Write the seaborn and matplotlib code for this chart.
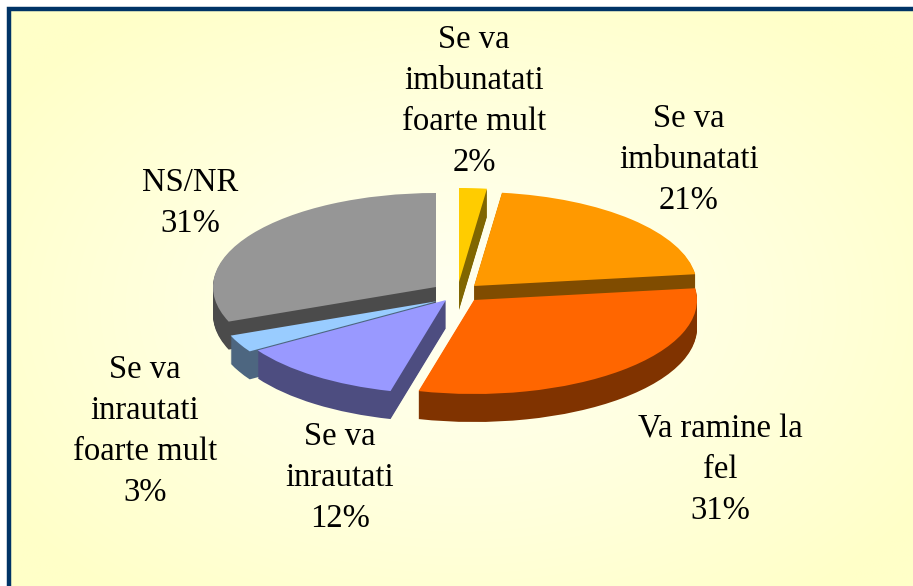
import numpy as np
import matplotlib
matplotlib.use("Agg")
import matplotlib.pyplot as plt
from matplotlib.patches import Rectangle
import seaborn as sns

categories = ["Se va\nimbunatati\nfoarte mult", "Se va\nimbunatati", "Va ramine la\nfel",
              "Se va\ninrautati", "Se va\ninrautati\nfoarte mult", "NS/NR"]
values = [2, 21, 31, 12, 3, 31]
top_colors = ["#FFCC00", "#FF9900", "#FF6600", "#9999FF", "#99CCFF", "#969696"]
wall_colors = ["#806600", "#804C00", "#803300", "#4D4D80", "#4D6680", "#4B4B4B"]

# layout (pixels)
W, H = 913, 586
RX, RY = 223, 94
DEPTH = 28
apex_px = [(459, 282), (474, 286), (474, 300), (446, 300), (438, 301), (436, 287)]
paint_rank = [2, 1, 5, 4, 3, 0]
label_px = [(474, 101), (689, 160), (720, 470), (340, 478), (145, 431), (190, 203)]

sns.set_theme(style="white")
plt.rcParams["font.family"] = ["Liberation Serif", "DejaVu Serif"]

fig = plt.figure(figsize=(W / 100, H / 100), dpi=100, facecolor="white")
ax = fig.add_axes([0, 0, 1, 1])


def to_data(px, py):
    return px / RX, -py / RY


# pale radial background
xx, yy = np.meshgrid(np.linspace(0, 1, 460), np.linspace(0, 1, 300))
dist = np.clip(np.sqrt(((xx - 0.49) / 0.60) ** 2 + ((yy - 0.5) / 0.62) ** 2), 0, 1)
start = np.array([255, 255, 240]) / 255
end = np.array([255, 255, 200]) / 255
grad = start + (end - start) * dist[..., None] ** 1.2

# stacked layers give the pie its thickness; the top layer is drawn last
for depth in range(DEPTH, -1, -1):
    wedges, _ = ax.pie(values, startangle=90, counterclock=False, radius=1,
                       colors=top_colors if depth == 0 else wall_colors,
                       wedgeprops={"linewidth": 0})
    for i, w in enumerate(wedges):
        w.set_center(to_data(apex_px[i][0], apex_px[i][1] + depth))
        w.set_zorder(10 + paint_rank[i] * 100 + (DEPTH - depth))

ax.set_aspect("auto")
ax.set_frame_on(False)
ax.set_xticks([])
ax.set_yticks([])

x0, y0 = to_data(9, 9)
x1, y1 = to_data(W + 20, H + 20)
ax.imshow(grad, extent=(x0, x1, y1, y0), aspect="auto", zorder=0, interpolation="bilinear")
ax.set_xlim(0, W / RX)
ax.set_ylim(-H / RY, 0)
ax.add_patch(Rectangle((x0, y1), x1 - x0, y0 - y1, fill=False, edgecolor="#003366",
                       linewidth=3.2, zorder=1))

for cat, v, (px, py) in zip(categories, values, label_px):
    x, y = to_data(px, py)
    ax.text(x, y, f"{cat}\n{v}%", ha="center", va="center", fontsize=23.5,
            color="black", linespacing=1.44, zorder=2000)

fig.savefig("out.png", dpi=100, facecolor="white")
